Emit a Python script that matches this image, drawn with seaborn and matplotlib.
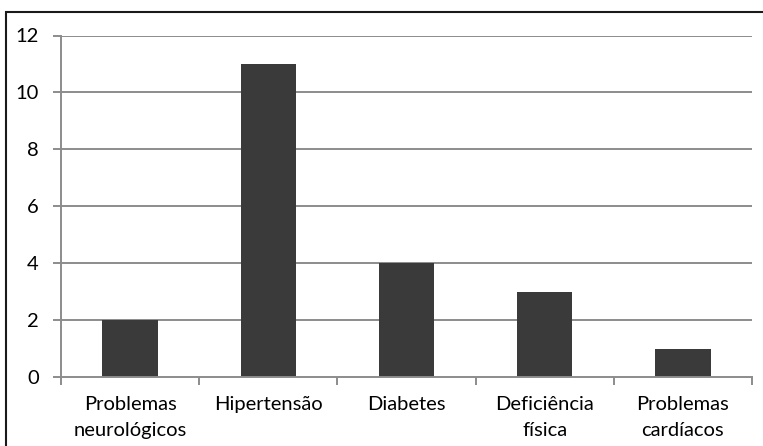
import matplotlib
matplotlib.use("Agg")
import matplotlib.pyplot as plt
import matplotlib.patches as mpatches
import seaborn as sns
import pandas as pd

categories = ["Problemas\nneurológicos", "Hipertensão", "Diabetes", "Deficiência\nfísica", "Problemas\ncardíacos"]
values = [2, 11, 4, 3, 1]
y_ticks = [0, 2, 4, 6, 8, 10, 12]

df = pd.DataFrame({"categoria": categories, "valor": values})

sns.set_theme(style="white")
plt.rcParams["font.family"] = ["Lato", "DejaVu Sans"]

W, H = 763, 446
fig = plt.figure(figsize=(W / 100, H / 100), dpi=100)
ax = fig.add_axes([61 / W, (H - 377) / H, (752 - 61) / W, (377 - 35.5) / H])

grid_color = "#8c8c8c"
for t in y_ticks[1:]:
    ax.axhline(t, color=grid_color, lw=1.4, zorder=0)

sns.barplot(data=df, x="categoria", y="valor", color="#3a3a3a", saturation=1,
            width=0.4, ax=ax, zorder=2, edgecolor="none")

ax.set_xlim(-0.5, len(categories) - 0.5)
ax.set_ylim(0, 12)
ax.set_yticks(y_ticks)
ax.set_xlabel("")
ax.set_ylabel("")

for side in ["top", "right"]:
    ax.spines[side].set_visible(False)
for side in ["left", "bottom"]:
    ax.spines[side].set_color(grid_color)
    ax.spines[side].set_linewidth(1.4)

# category ticks sit on the boundaries between bars
ax.set_xticks([i - 0.5 for i in range(len(categories) + 1)], minor=True)
ax.tick_params(axis="x", which="minor", length=6, width=1.4, color=grid_color, direction="out", bottom=True)
ax.tick_params(axis="x", which="major", length=0, pad=14, labelsize=14.5, labelcolor="black")
ax.tick_params(axis="y", length=6, width=1.4, color=grid_color, direction="out", left=True,
               pad=10, labelsize=14.5, labelcolor="black")
for lbl in ax.get_xticklabels():
    lbl.set_linespacing(1.6)

# frame around the chart area
fig.patches.append(mpatches.Rectangle((6 / W, -0.05), 1.0, (H - 12) / H + 0.05,
                                      transform=fig.transFigure, fill=False,
                                      edgecolor="#1a1a1a", lw=1.5))

fig.savefig("out.png", dpi=100)
